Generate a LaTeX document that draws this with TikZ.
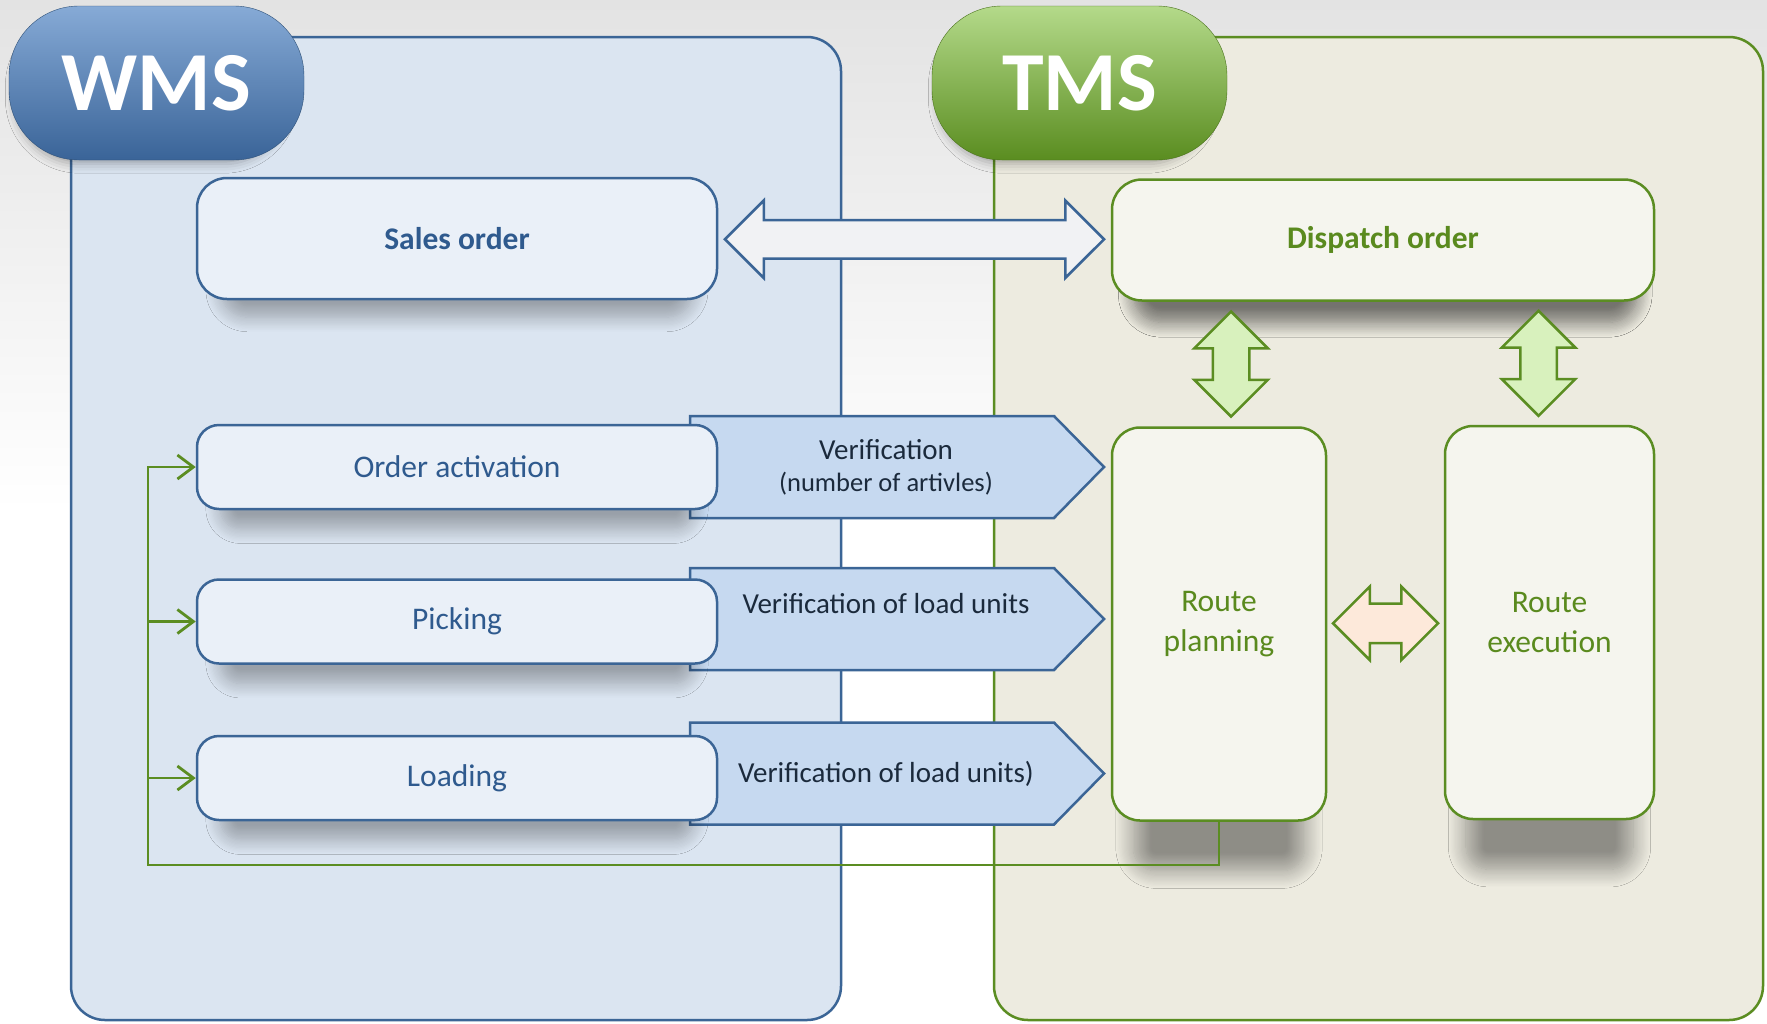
\documentclass[tikz,border=0pt]{standalone}
\usepackage{fontspec}
\setmainfont{Carlito}
\usetikzlibrary{arrows.meta,positioning,calc,shapes.arrows,shadows.blur}

\definecolor{wmsbg}{HTML}{DBE5F1}
\definecolor{wmsline}{HTML}{3B6596}
\definecolor{wmsfill}{HTML}{EAF0F8}
\definecolor{wmstext}{HTML}{2F5A8E}
\definecolor{wmslight}{HTML}{86AAD6}
\definecolor{wmsdark}{HTML}{3A6498}
\definecolor{chevfill}{HTML}{C6D9F0}
\definecolor{chevtext}{HTML}{1B2A3C}
\definecolor{tmsbg}{HTML}{EDEBE0}
\definecolor{tmsline}{HTML}{5B8D22}
\definecolor{tmsfill}{HTML}{F5F5EE}
\definecolor{tmstext}{HTML}{5A8A1E}
\definecolor{tmslight}{HTML}{B4DA8A}
\definecolor{tmsdark}{HTML}{5A8D20}
\definecolor{upfill}{HTML}{D8F1BD}
\definecolor{sidefill}{HTML}{FDE9DA}
\definecolor{linkfill}{HTML}{F1F2F4}

\tikzset{
  panel/.style={line width=2.5pt, rounded corners=34pt},
  pill/.style={minimum width=295pt, minimum height=154pt, rounded corners=70pt,
    inner sep=0pt, text=white, font=\fontsize{84}{84}\selectfont\bfseries,
    blur shadow={shadow xshift=-5pt, shadow yshift=-10pt, shadow scale=0.93, shadow blur radius=10pt, shadow opacity=30}},
  wbox/.style={draw=wmsline, fill=wmsfill, line width=2.5pt, rounded corners=22pt,
    minimum width=520pt, minimum height=84pt, inner sep=0pt, text=wmstext,
    font=\fontsize{31.5}{39}\selectfont,
    blur shadow={shadow xshift=0pt, shadow yshift=-26pt, shadow scale=0.91, shadow blur radius=16pt, shadow blur steps=12, shadow opacity=30}},
  tbox/.style={draw=tmsline, fill=tmsfill, line width=2.5pt, rounded corners=28pt,
    minimum width=214pt, minimum height=393pt, inner sep=0pt, text=tmstext, align=center,
    font=\fontsize{31.5}{39.5}\selectfont,
    blur shadow={shadow xshift=0pt, shadow yshift=-112pt, shadow scale=0.8, shadow blur radius=22pt, shadow blur steps=16, shadow opacity=40}},
  chev/.style={draw=wmsline, fill=chevfill, line width=2.5pt, line join=miter},
  chevtxt/.style={text=chevtext, font=\fontsize{29}{32}\selectfont, align=center, inner sep=0pt},
  dbl/.style={double arrow, double arrow head extend=#1, line width=2.5pt},
  backline/.style={draw=tmsline, line width=2.8pt, -{Straight Barb[length=16pt,width=24pt]}},
}

\begin{document}
\begin{tikzpicture}[x=1pt, y=-1pt]
  \useasboundingbox (0,0) rectangle (1767,1023);
  \fill[top color=black!11, bottom color=white, middle color=white] (0,0) rectangle (1767,1023);

  % the two systems
  \draw[panel, draw=wmsline, fill=wmsbg] (71,37) rectangle (841,1020);
  \draw[panel, draw=tmsline, fill=tmsbg] (994,37) rectangle (1763,1020);
  \node[pill, draw=wmsline!80!black, top color=wmslight, bottom color=wmsdark] (wms) at (156.5,83) {WMS};
  \node[pill, draw=tmsline!80!black, top color=tmslight, bottom color=tmsdark] (tms) at (1079.5,83) {TMS};

  % verification steps
  \foreach \cy in {467,619,773.5}
    \draw[chev] (690,\cy-51) -- (1054,\cy-51) -- (1104,\cy) -- (1054,\cy+51) -- (690,\cy+51) -- cycle;
  \node[chevtxt] (v1) at (886,467) {Verification\\\fontsize{26.5}{32}\selectfont(number of artivles)};
  \node[chevtxt] (v2) at (886,604) {Verification of load units};
  \node[chevtxt] (v3) at (886,773.5) {Verification of load units)};

  % WMS side
  \node[wbox, minimum height=121pt, rounded corners=30pt, font=\fontsize{31.5}{39}\selectfont\bfseries] (sales) at (457,238.5) {Sales order};
  \node[wbox] (act) at (457,467) {Order activation};
  \node[wbox, below=68pt of act] (pick) {Picking};
  \node[wbox, below=70pt of pick] (load) {Loading};

  % TMS side
  \node[tbox, minimum width=542pt, minimum height=121pt, rounded corners=30pt,
    font=\fontsize{31.5}{39}\selectfont\bfseries,
    blur shadow={shadow yshift=-28pt, shadow scale=0.93, shadow blur radius=16pt, shadow blur steps=12, shadow opacity=30}] (dispatch) at (1383,240) {Dispatch order};
  \node[tbox] (plan) at (1219,624) {Route\\planning};
  \node[tbox, minimum width=209pt] (exec) at (1549.5,622.5) {Route\\execution};

  % links
  \node[dbl=19.5pt, draw=wmsline, fill=linkfill, inner sep=18pt, minimum height=379pt, minimum width=75pt]
    (link) at ($(sales.east)!0.5!(dispatch.west)$) {};
  \node[dbl=18.5pt, draw=tmsline, fill=upfill, shape border rotate=90, inner sep=17pt, minimum height=105pt,
    minimum width=71pt, xshift=12pt] (up1) at ($(dispatch.south -| plan.north)!0.5!(plan.north)$) {};
  \node[dbl=18.5pt, draw=tmsline, fill=upfill, shape border rotate=90, inner sep=17pt, minimum height=105pt,
    minimum width=71pt, xshift=-11pt] (up2) at ($(dispatch.south -| exec.north)!0.5!(exec.north)$) {};
  \node[dbl=17pt, draw=tmsline, fill=sidefill, inner sep=18.5pt, minimum height=105pt, minimum width=71pt]
    (side) at ($(plan.east)!0.5!(exec.west)$) {};

  % feedback to the warehouse
  \coordinate (fbturn) at (148,865);
  \draw[backline] (plan.south) |- (fbturn) |- (act.west);
  \draw[backline] (fbturn |- pick.west) -- (pick.west);
  \draw[backline] (fbturn |- load.west) -- (load.west);
\end{tikzpicture}
\end{document}
